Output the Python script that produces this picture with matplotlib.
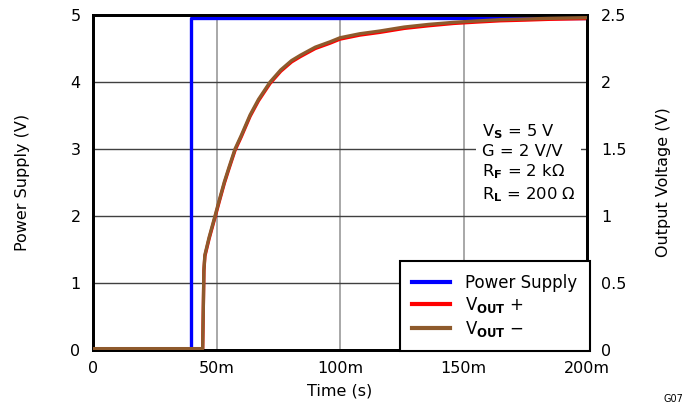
import matplotlib
matplotlib.use("Agg")
import matplotlib.pyplot as plt
from matplotlib.lines import Line2D

plt.rcParams['font.family'] = ['DejaVu Sans']
plt.rcParams['mathtext.fontset'] = 'dejavusans'

# ---- data (time in seconds) ----
supply_t = [0.0, 0.0397, 0.0397, 0.200]
supply_v = [0.02, 0.02, 4.96, 4.96]

out_t_ms = [0, 44.4, 44.9, 45.3, 47, 49.4, 51, 53.2, 55, 57.5, 60, 63.6, 67, 71.7,
            76, 80.4, 84, 90, 96, 100, 108, 116, 126, 136, 146, 155, 165, 175,
            185, 200]
vout_minus = [0.01, 0.01, 0.60, 0.71, 0.84, 1.00, 1.11, 1.256, 1.36, 1.50, 1.60,
              1.754, 1.87, 2.00, 2.09, 2.16, 2.20, 2.26, 2.30, 2.33, 2.36, 2.38,
              2.41, 2.43, 2.445, 2.455, 2.465, 2.47, 2.475, 2.48]
vout_plus = [0.01, 0.01, 0.59, 0.70, 0.83, 0.99, 1.10, 1.246, 1.35, 1.49, 1.59,
             1.744, 1.86, 1.99, 2.08, 2.15, 2.19, 2.25, 2.29, 2.32, 2.35, 2.37,
             2.40, 2.42, 2.437, 2.447, 2.457, 2.462, 2.468, 2.473]
out_t = [t / 1000.0 for t in out_t_ms]

x_ticks = [0, 0.05, 0.10, 0.15, 0.20]
x_labels = ["0", "50m", "100m", "150m", "200m"]
left_ticks = [0, 1, 2, 3, 4, 5]
right_ticks = [0, 0.5, 1, 1.5, 2, 2.5]
right_labels = ["0", "0.5", "1", "1.5", "2", "2.5"]

blue = '#0000FF'
red = '#FF0000'
brown = '#8E5A2C'

fig = plt.figure(figsize=(6.85, 4.04), dpi=100)
ax = fig.add_axes([93/685, 54/404, 494/685, 335/404])
ax2 = ax.twinx()

ax.set_xlim(0, 0.2)
ax.set_ylim(0, 5)
ax2.set_ylim(0, 2.5)

ax.set_xticks(x_ticks)
ax.set_xticklabels(x_labels)
ax.set_yticks(left_ticks)
ax.set_yticklabels([str(v) for v in left_ticks])
ax2.set_yticks(right_ticks)
ax2.set_yticklabels(right_labels)

ax.tick_params(axis='x', length=0, labelsize=11.5, pad=8)
ax.tick_params(axis='y', length=0, labelsize=11.5, pad=9)
ax2.tick_params(axis='y', length=0, labelsize=11.5, pad=10)
for a in (ax, ax2):
    for s in a.spines.values():
        s.set_linewidth(2.0)
        s.set_color('black')

# grid
for xv in x_ticks[1:-1]:
    ax.axvline(xv, color='#9a9a9a', lw=1.2, zorder=0)
for yv in left_ticks[1:-1]:
    ax.axhline(yv, color='#404040', lw=1.0, zorder=0)

ax.plot(supply_t, supply_v, color=blue, lw=2.4, zorder=3)
ax2.plot(out_t, vout_plus, color=red, lw=2.4, zorder=2)
ax2.plot(out_t, vout_minus, color=brown, lw=2.4, zorder=3)

ax.set_xlabel("Time (s)", fontsize=11.5, labelpad=5)
ax.set_ylabel("Power Supply (V)", fontsize=11.5, labelpad=29)
ax2.set_ylabel("Output Voltage (V)", fontsize=11.5, labelpad=21)

ax2.text(0.787, 0.558,
         "V$_{\\mathbf{S}}$ = 5 V\nG = 2 V/V\nR$_{\\mathbf{F}}$ = 2 k\u03a9\nR$_{\\mathbf{L}}$ = 200 \u03a9",
         transform=ax2.transAxes, fontsize=11.8, va='center', ha='left',
         linespacing=1.25, zorder=5,
         bbox=dict(facecolor='white', edgecolor='none', pad=4))

handles = [Line2D([], [], color=blue, lw=3),
           Line2D([], [], color=red, lw=3),
           Line2D([], [], color=brown, lw=3)]
labels = ["Power Supply", "V$_{\\mathbf{OUT}}$ +", "V$_{\\mathbf{OUT}}$ \u2212"]
leg = ax2.legend(handles, labels, loc='lower right', bbox_to_anchor=(1.006, -0.004),
                 fontsize=12, frameon=True, fancybox=False, framealpha=1,
                 edgecolor='black', handlelength=2.3, handletextpad=0.9,
                 borderpad=0.75, labelspacing=0.22, borderaxespad=0)
leg.get_frame().set_linewidth(1.5)
leg.set_zorder(6)

fig.text(664/685, 1 - 399/404, "G07", fontsize=7, ha='left', va='center')

fig.savefig("out.png", dpi=100)
